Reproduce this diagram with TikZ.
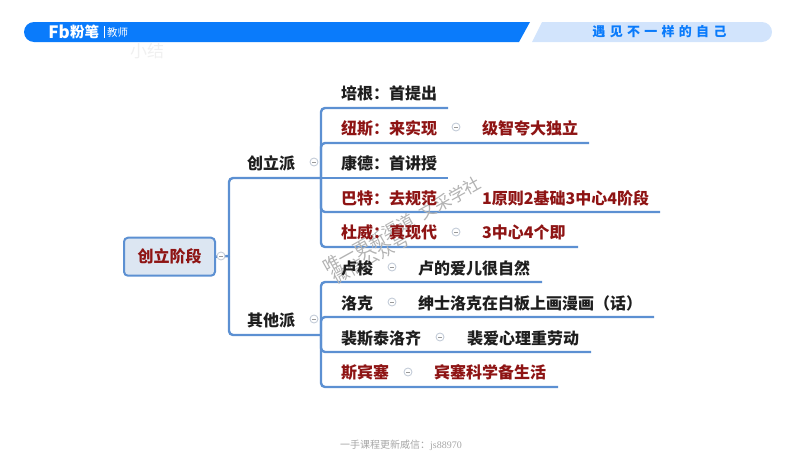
\documentclass[tikz,border=0pt]{standalone}
\usepackage{fontspec}
\setmainfont{Noto Sans CJK SC}
\newfontfamily\footserif{Liberation Serif}
\definecolor{bandblue}{HTML}{0A7BFB}
\definecolor{bandlight}{HTML}{D2E4FC}
\definecolor{mapblue}{HTML}{5C90D2}
\definecolor{mapred}{HTML}{8E1414}
\definecolor{mapink}{HTML}{1E1E1E}
\definecolor{rootfill}{HTML}{DCE6F2}
\definecolor{foldgrey}{HTML}{C4CCD8}
\tikzset{
  treenode/.style = {anchor=west, inner sep=0pt, text centered, yshift=-0.7pt,
    font=\fontsize{16}{16}\selectfont\bfseries},
  mm_k/.style = {treenode, text=mapink},% black leaf text
  mm_r/.style = {treenode, text=mapred},% red leaf text
  mm_root/.style = {treenode, anchor=center, rectangle, rounded corners=4pt, draw=mapblue,
    fill=rootfill, text=mapred, line width=2pt, minimum width=91pt, minimum height=38pt},
  mm_fold/.style = {circle, draw=foldgrey, fill=white, line width=0.9pt, minimum size=8pt, inner sep=0pt,
    path picture={\draw[black!40, line width=0.5pt] ([xshift=-2pt]path picture bounding box.center)
      -- ([xshift=2pt]path picture bounding box.center);}},% collapse mark
  mm_line/.style = {draw=mapblue, line width=2.4pt, rounded corners=4pt},
  wm_text/.style = {text=black!30, rotate=29, inner sep=0pt, font=\fontsize{17}{17}\selectfont}
}

\begin{document}
\begin{tikzpicture}[x=1pt,y=-1pt]
	\useasboundingbox (0,0) rectangle (800,450);

	% header
	\fill[bandblue] (530,22) -- (519,42) -- (34,42) arc (90:270:10) -- cycle;
	\fill[bandlight] (532,42) -- (542,22) -- (762,22) arc (-90:90:10) -- cycle;
	\node[text=white, inner sep=0pt, font=\fontsize{17}{17}\selectfont\bfseries] (logo_fb) at (59,32) {Fb};
	\node[text=white, anchor=west, inner sep=0pt, font=\fontsize{14.5}{14.5}\selectfont\bfseries] (logo_name) at (70,32) {粉笔};
	\node[text=white, anchor=west, inner sep=0pt, font=\fontsize{10.5}{10.5}\selectfont] (logo_sub) at (107,33) {教师};
	\draw[white, line width=0.5pt] (104,26) -- (104,38);
	\node[text=bandblue, inner sep=0pt, font=\fontsize{13}{13}\selectfont\bfseries\addfontfeature{LetterSpace=33}] (slogan) at (659.5,32) {遇见不一样的自己};
	\node[text=black!6, inner sep=0pt, font=\fontsize{17}{17}\selectfont] (summary) at (147,51) {小结};

	% root and branches
	\node[mm_root] (root) at (169.5,256) {创立阶段};
	\node[mm_k] (founders) at (247,163) {创立派};
	\node[mm_k] (others) at (247,320) {其他派};

	\coordinate (trunk) at (229,256);
	\coordinate (joint_a) at (321,178);
	\coordinate (joint_b) at (321,335);
	\coordinate (end_a1) at (448,108);
	\coordinate (end_a2) at (589,143);
	\coordinate (end_a3) at (448,178);
	\coordinate (end_a4) at (660,212);
	\coordinate (end_a5) at (578,247);
	\coordinate (end_b1) at (542,282);
	\coordinate (end_b2) at (654,317);
	\coordinate (end_b3) at (591,352);
	\coordinate (end_b4) at (558,387);

	\draw[mm_line] (root.east) -- (trunk);
	\draw[mm_line] (trunk) |- (joint_a);
	\draw[mm_line] (trunk) |- (joint_b);
	\draw[mm_line] (joint_a) |- (end_a1);
	\draw[mm_line] (joint_a) |- (end_a2);
	\draw[mm_line] (joint_a) -- (end_a3);
	\draw[mm_line] (joint_a) |- (end_a4);
	\draw[mm_line] (joint_a) |- (end_a5);
	\draw[mm_line] (joint_b) |- (end_b1);
	\draw[mm_line] (joint_b) |- (end_b2);
	\draw[mm_line] (joint_b) |- (end_b3);
	\draw[mm_line] (joint_b) |- (end_b4);

	% watermark
	\node[wm_text] (wm_a) at (402,225) {唯一更新渠道 \ 文采学社};
	\node[wm_text] (wm_b) at (371,258) {微信公众号};

	% leaves
	\node[mm_k] (bacon) at (341,93) {培根：首提出};
	\node[mm_r] (newton) at (341,128) {纽斯：来实现};
	\node[mm_r] (newton_d) at (482,128) {级智夸大独立};
	\node[mm_k] (kant) at (341,163) {康德：首讲授};
	\node[mm_r] (herbart) at (341,198) {巴特：去规范};
	\node[mm_r] (herbart_d) at (482,198) {1原则2基础3中心4阶段};
	\node[mm_r] (dewey) at (341,232) {杜威：真现代};
	\node[mm_r] (dewey_d) at (482,232) {3中心4个即};
	\node[mm_k] (rousseau) at (341,268) {卢梭};
	\node[mm_k] (rousseau_d) at (418,268) {卢的爱儿很自然};
	\node[mm_k] (locke) at (341,303) {洛克};
	\node[mm_k] (locke_d) at (418,303) {绅士洛克在白板上画漫画（话）};
	\node[mm_k] (pesta) at (341,338) {裴斯泰洛齐};
	\node[mm_k] (pesta_d) at (467,338) {裴爱心理重劳动};
	\node[mm_r] (spencer) at (341,372) {斯宾塞};
	\node[mm_r] (spencer_d) at (434,372) {宾塞科学备生活};

	% collapse marks
	\node[mm_fold] (fold_root) at (221,256) {};
	\node[mm_fold] (fold_a) at (314,162) {};
	\node[mm_fold] (fold_b) at (314,319) {};
	\node[mm_fold] (fold_a2) at (456,127) {};
	\node[mm_fold] (fold_a5) at (456,232) {};
	\node[mm_fold] (fold_b1) at (392,267) {};
	\node[mm_fold] (fold_b2) at (392,302) {};
	\node[mm_fold] (fold_b3) at (440,337) {};
	\node[mm_fold] (fold_b4) at (408,372) {};

	% footer
	\node[text=black!35, inner sep=0pt, font=\fontsize{10}{10}\selectfont] (footer) at (401,445) {一手课程更新威信：{\footserif js88970}};
\end{tikzpicture}
\end{document}
